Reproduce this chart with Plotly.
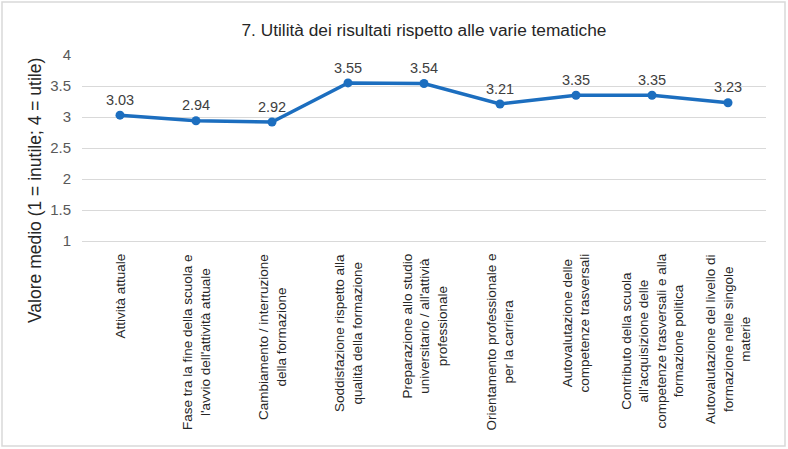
import plotly.graph_objects as go

categories = [
    "Attività attuale",
    "Fase tra la fine della scuola e<br>l'avvio dell'attività attuale",
    "Cambiamento / interruzione<br>della formazione",
    "Soddisfazione rispetto alla<br>qualità della formazione",
    "Preparazione allo studio<br>universitario / all'attivià<br>professionale",
    "Orientamento professionale e<br>per la carriera",
    "Autovalutazione delle<br>competenze trasversali",
    "Contributo della scuola<br>all'acquisizione delle<br>competenze trasversali e alla<br>formazione politica",
    "Autovalutazione del livello di<br>formazione nelle singole<br>materie",
]
values = [3.03, 2.94, 2.92, 3.55, 3.54, 3.21, 3.35, 3.35, 3.23]
value_labels = [f"{v:.2f}" for v in values]
y_ticks = [1, 1.5, 2, 2.5, 3, 3.5, 4]
y_tick_text = ["1", "1.5", "2", "2.5", "3", "3.5", "4"]

W, H = 788, 449
L, R, T, B = 82, 22, 55, 208
pw, ph = W - L - R, H - T - B
FONT = "Liberation Sans, Arial"

x_idx = list(range(len(categories)))

fig = go.Figure()
fig.add_trace(go.Scatter(
    x=x_idx, y=values, mode="lines+markers+text",
    text=value_labels, textposition="top center",
    textfont=dict(family=FONT, size=14.5, color="#404040"),
    line=dict(color="#1C6EBF", width=3.5),
    marker=dict(color="#1C6EBF", size=9),
    cliponaxis=False, showlegend=False, hoverinfo="skip",
))

for i, c in zip(x_idx, categories):
    fig.add_annotation(
        x=i, y=0, xref="x", yref="paper", text=c, showarrow=False,
        textangle=-90, xanchor="center", yanchor="top", align="center",
        yshift=-11,
        font=dict(family=FONT, size=13.5, color="#262626"),
    )

def px_x(p):
    return (p - L) / pw

def px_y(p):
    return (H - B - p) / ph

fig.add_annotation(
    x=px_x(35), y=px_y(191), xref="paper", yref="paper",
    text="Valore medio (1 = inutile; 4 = utile)", showarrow=False,
    textangle=-90, xanchor="center", yanchor="middle",
    font=dict(family=FONT, size=17.5, color="#262626"),
)

fig.add_shape(type="rect", xref="paper", yref="paper",
              x0=px_x(2), x1=px_x(785), y0=px_y(446), y1=px_y(2),
              line=dict(color="#D9D9D9", width=1.5), layer="below")

fig.update_layout(
    width=W, height=H,
    margin=dict(l=L, r=R, t=T, b=B),
    paper_bgcolor="white", plot_bgcolor="white",
    title=dict(text="7. Utilità dei risultati rispetto alle varie tematiche",
               x=(L + pw / 2) / W, xanchor="center", y=1 - 30 / H, yanchor="middle",
               font=dict(family=FONT, size=17.3, color="#262626")),
    font=dict(family=FONT),
)
fig.update_xaxes(range=[-0.5, len(categories) - 0.5], showticklabels=False,
                 showgrid=False, zeroline=False, showline=True,
                 linecolor="#D9D9D9", linewidth=1)
fig.update_yaxes(range=[1, 4], tickvals=y_ticks, ticktext=y_tick_text,
                 showgrid=True, gridcolor="#D9D9D9", gridwidth=1, zeroline=False,
                 tickfont=dict(size=15, color="#595959"), ticks="", ticklen=0,
                 ticklabelstandoff=10)

fig.write_html("out.html", config={"displayModeBar": False},
               post_script="document.body.style.margin='0px';")
